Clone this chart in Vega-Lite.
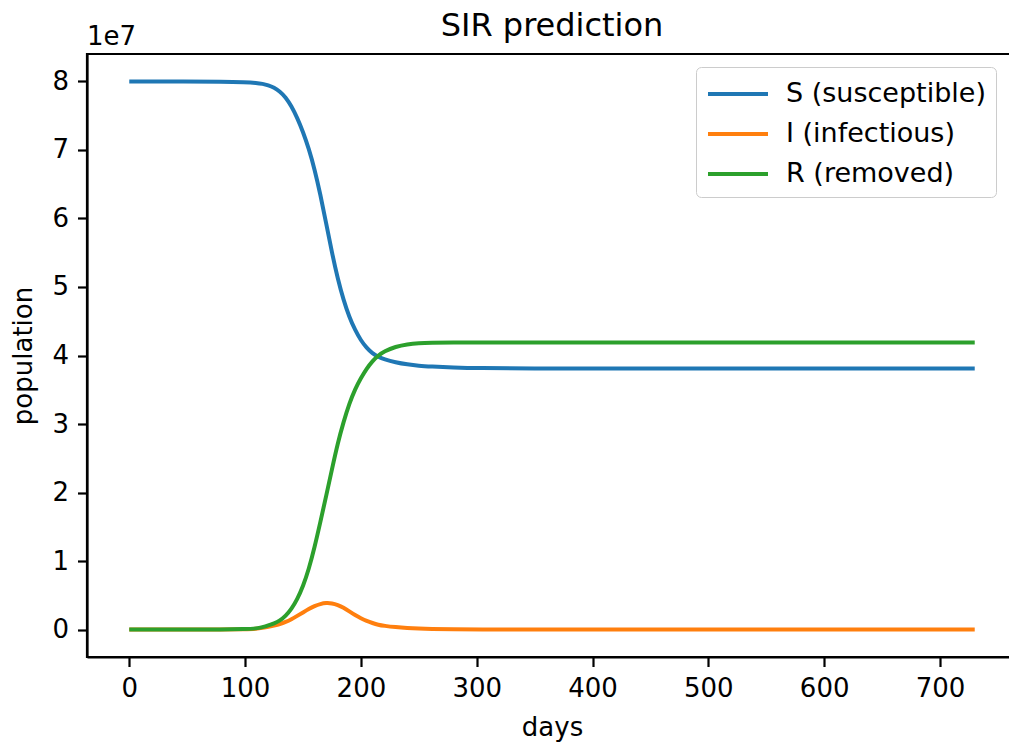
{
  "$schema": "https://vega.github.io/schema/vega-lite/v6.json",
  "width": 930,
  "height": 603,
  "autosize": {"type": "none"},
  "padding": {"left": 87, "top": 54, "right": 0, "bottom": 85},
  "background": "white",
  "title": {"text": "SIR prediction", "fontSize": 32, "font": "DejaVu Sans", "fontWeight": "normal", "color": "black", "anchor": "middle", "frame": "group", "baseline": "alphabetic", "offset": -44},
  "config": {
    "font": "DejaVu Sans",
    "view": {"stroke": "black", "strokeWidth": 2.2},
    "axis": {"domainColor": "black", "domainWidth": 2.2, "tickColor": "black", "tickWidth": 2.2, "tickSize": 9.5, "labelFontSize": 26, "labelColor": "black", "labelPadding": 9, "titleFontSize": 26, "titleFontWeight": "normal", "titleColor": "black", "grid": false, "labelFont": "DejaVu Sans", "titleFont": "DejaVu Sans", "labelFlush": false, "labelOverlap": false},
    "legend": {"labelFont": "DejaVu Sans"}
  },
  "datasets": {
    "sir": [
      {"day": 0, "series": "S (susceptible)", "value": 80000000},
      {"day": 50, "series": "S (susceptible)", "value": 79990000},
      {"day": 80, "series": "S (susceptible)", "value": 79960000},
      {"day": 100, "series": "S (susceptible)", "value": 79880000},
      {"day": 110, "series": "S (susceptible)", "value": 79780000},
      {"day": 115, "series": "S (susceptible)", "value": 79660000},
      {"day": 120, "series": "S (susceptible)", "value": 79450000},
      {"day": 125, "series": "S (susceptible)", "value": 79100000},
      {"day": 130, "series": "S (susceptible)", "value": 78550000},
      {"day": 135, "series": "S (susceptible)", "value": 77700000},
      {"day": 140, "series": "S (susceptible)", "value": 76400000},
      {"day": 145, "series": "S (susceptible)", "value": 74700000},
      {"day": 150, "series": "S (susceptible)", "value": 72650000},
      {"day": 155, "series": "S (susceptible)", "value": 70200000},
      {"day": 160, "series": "S (susceptible)", "value": 67200000},
      {"day": 165, "series": "S (susceptible)", "value": 63500000},
      {"day": 170, "series": "S (susceptible)", "value": 59300000},
      {"day": 175, "series": "S (susceptible)", "value": 55000000},
      {"day": 180, "series": "S (susceptible)", "value": 51200000},
      {"day": 185, "series": "S (susceptible)", "value": 48100000},
      {"day": 190, "series": "S (susceptible)", "value": 45600000},
      {"day": 195, "series": "S (susceptible)", "value": 43700000},
      {"day": 200, "series": "S (susceptible)", "value": 42200000},
      {"day": 205, "series": "S (susceptible)", "value": 41100000},
      {"day": 210, "series": "S (susceptible)", "value": 40300000},
      {"day": 215, "series": "S (susceptible)", "value": 39800000},
      {"day": 220, "series": "S (susceptible)", "value": 39450000},
      {"day": 230, "series": "S (susceptible)", "value": 39000000},
      {"day": 240, "series": "S (susceptible)", "value": 38700000},
      {"day": 250, "series": "S (susceptible)", "value": 38500000},
      {"day": 260, "series": "S (susceptible)", "value": 38400000},
      {"day": 280, "series": "S (susceptible)", "value": 38250000},
      {"day": 300, "series": "S (susceptible)", "value": 38150000},
      {"day": 350, "series": "S (susceptible)", "value": 38100000},
      {"day": 400, "series": "S (susceptible)", "value": 38100000},
      {"day": 500, "series": "S (susceptible)", "value": 38100000},
      {"day": 600, "series": "S (susceptible)", "value": 38100000},
      {"day": 730, "series": "S (susceptible)", "value": 38100000},

      {"day": 0, "series": "I (infectious)", "value": 0},
      {"day": 50, "series": "I (infectious)", "value": 5000},
      {"day": 80, "series": "I (infectious)", "value": 20000},
      {"day": 100, "series": "I (infectious)", "value": 50000},
      {"day": 110, "series": "I (infectious)", "value": 120000},
      {"day": 115, "series": "I (infectious)", "value": 250000},
      {"day": 120, "series": "I (infectious)", "value": 400000},
      {"day": 125, "series": "I (infectious)", "value": 600000},
      {"day": 130, "series": "I (infectious)", "value": 800000},
      {"day": 135, "series": "I (infectious)", "value": 1100000},
      {"day": 140, "series": "I (infectious)", "value": 1500000},
      {"day": 145, "series": "I (infectious)", "value": 2000000},
      {"day": 150, "series": "I (infectious)", "value": 2500000},
      {"day": 155, "series": "I (infectious)", "value": 3000000},
      {"day": 160, "series": "I (infectious)", "value": 3450000},
      {"day": 165, "series": "I (infectious)", "value": 3750000},
      {"day": 170, "series": "I (infectious)", "value": 3900000},
      {"day": 175, "series": "I (infectious)", "value": 3850000},
      {"day": 180, "series": "I (infectious)", "value": 3600000},
      {"day": 185, "series": "I (infectious)", "value": 3200000},
      {"day": 190, "series": "I (infectious)", "value": 2650000},
      {"day": 195, "series": "I (infectious)", "value": 2100000},
      {"day": 200, "series": "I (infectious)", "value": 1650000},
      {"day": 205, "series": "I (infectious)", "value": 1250000},
      {"day": 210, "series": "I (infectious)", "value": 950000},
      {"day": 215, "series": "I (infectious)", "value": 700000},
      {"day": 220, "series": "I (infectious)", "value": 550000},
      {"day": 230, "series": "I (infectious)", "value": 350000},
      {"day": 240, "series": "I (infectious)", "value": 220000},
      {"day": 250, "series": "I (infectious)", "value": 140000},
      {"day": 260, "series": "I (infectious)", "value": 90000},
      {"day": 280, "series": "I (infectious)", "value": 40000},
      {"day": 300, "series": "I (infectious)", "value": 20000},
      {"day": 350, "series": "I (infectious)", "value": 5000},
      {"day": 400, "series": "I (infectious)", "value": 1000},
      {"day": 500, "series": "I (infectious)", "value": 0},
      {"day": 600, "series": "I (infectious)", "value": 0},
      {"day": 730, "series": "I (infectious)", "value": 0},

      {"day": 0, "series": "R (removed)", "value": 0},
      {"day": 50, "series": "R (removed)", "value": 5000},
      {"day": 80, "series": "R (removed)", "value": 20000},
      {"day": 100, "series": "R (removed)", "value": 70000},
      {"day": 110, "series": "R (removed)", "value": 160000},
      {"day": 115, "series": "R (removed)", "value": 350000},
      {"day": 120, "series": "R (removed)", "value": 600000},
      {"day": 125, "series": "R (removed)", "value": 900000},
      {"day": 130, "series": "R (removed)", "value": 1300000},
      {"day": 135, "series": "R (removed)", "value": 2000000},
      {"day": 140, "series": "R (removed)", "value": 3000000},
      {"day": 145, "series": "R (removed)", "value": 4400000},
      {"day": 150, "series": "R (removed)", "value": 6300000},
      {"day": 155, "series": "R (removed)", "value": 8800000},
      {"day": 160, "series": "R (removed)", "value": 12000000},
      {"day": 165, "series": "R (removed)", "value": 15700000},
      {"day": 170, "series": "R (removed)", "value": 19500000},
      {"day": 175, "series": "R (removed)", "value": 23400000},
      {"day": 180, "series": "R (removed)", "value": 27200000},
      {"day": 185, "series": "R (removed)", "value": 30300000},
      {"day": 190, "series": "R (removed)", "value": 33000000},
      {"day": 195, "series": "R (removed)", "value": 35100000},
      {"day": 200, "series": "R (removed)", "value": 36700000},
      {"day": 205, "series": "R (removed)", "value": 38100000},
      {"day": 210, "series": "R (removed)", "value": 39200000},
      {"day": 215, "series": "R (removed)", "value": 40000000},
      {"day": 220, "series": "R (removed)", "value": 40600000},
      {"day": 230, "series": "R (removed)", "value": 41300000},
      {"day": 240, "series": "R (removed)", "value": 41650000},
      {"day": 250, "series": "R (removed)", "value": 41800000},
      {"day": 260, "series": "R (removed)", "value": 41850000},
      {"day": 280, "series": "R (removed)", "value": 41900000},
      {"day": 300, "series": "R (removed)", "value": 41900000},
      {"day": 350, "series": "R (removed)", "value": 41900000},
      {"day": 400, "series": "R (removed)", "value": 41900000},
      {"day": 500, "series": "R (removed)", "value": 41900000},
      {"day": 600, "series": "R (removed)", "value": 41900000},
      {"day": 730, "series": "R (removed)", "value": 41900000}
    ],
    "note": [{"label": "1e7"}]
  },
  "layer": [
    {
      "data": {"name": "sir"},
      "mark": {"type": "line", "strokeWidth": 4, "interpolate": "basis"},
      "encoding": {
        "x": {"field": "day", "type": "quantitative", "scale": {"domain": [-36.5, 766.5], "nice": false, "zero": false}, "axis": {"values": [0, 100, 200, 300, 400, 500, 600, 700], "title": "days", "titlePadding": 13}},
        "y": {"field": "value", "type": "quantitative", "scale": {"domain": [-4000000, 84000000], "nice": false, "zero": false}, "axis": {"values": [0, 10000000, 20000000, 30000000, 40000000, 50000000, 60000000, 70000000, 80000000], "labelExpr": "format(datum.value / 10000000, 'd')", "title": "population", "titlePadding": 15}},
        "color": {
          "field": "series", "type": "nominal",
          "scale": {"domain": ["S (susceptible)", "I (infectious)", "R (removed)"], "range": ["#1f77b4", "#ff7f0e", "#2ca02c"]},
          "legend": {"title": null, "orient": "none", "legendX": 609, "legendY": 13, "symbolType": "M-2,0H2", "symbolStrokeWidth": 4, "symbolSize": 900, "symbolOffset": 15, "labelFontSize": 27, "labelColor": "black", "labelOffset": 31, "labelLimit": 0, "padding": 10, "rowPadding": 10, "fillColor": "rgba(255,255,255,0.8)", "strokeColor": "#cccccc", "cornerRadius": 5}
        }
      }
    },
    {
      "data": {"name": "note"},
      "mark": {"type": "text", "align": "left", "baseline": "alphabetic", "dy": -9, "fontSize": 26, "color": "black", "font": "DejaVu Sans"},
      "encoding": {
        "x": {"datum": -36.5, "type": "quantitative"},
        "y": {"datum": 84000000, "type": "quantitative"},
        "text": {"field": "label"}
      }
    }
  ]
}
